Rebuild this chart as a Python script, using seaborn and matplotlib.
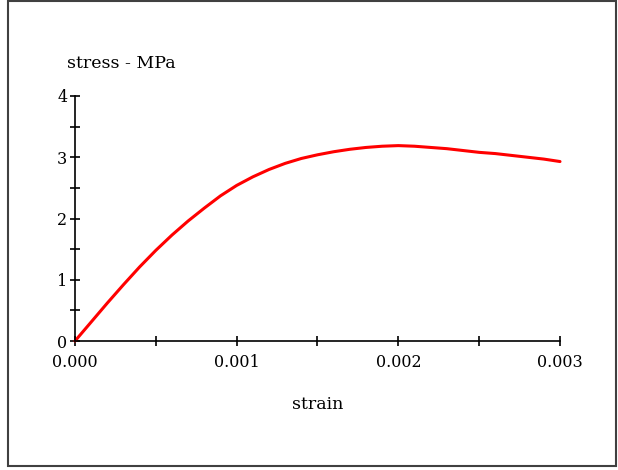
"""
Concrete stress-strain curve, redrawn with seaborn.
"""

import pandas as pd
import matplotlib as mpl
import matplotlib.pyplot as plt
from matplotlib.patches import Rectangle
from matplotlib.ticker import MultipleLocator, FormatStrFormatter
import seaborn as sns

# Data
strain = [0.0, 0.0001, 0.0002, 0.0003, 0.0004, 0.0005, 0.0006, 0.0007,
          0.0008, 0.0009, 0.0010, 0.0011, 0.0012, 0.0013, 0.0014, 0.0015,
          0.0016, 0.0017, 0.0018, 0.0019, 0.0020, 0.0021, 0.0022, 0.0023,
          0.0024, 0.0025, 0.0026, 0.0027, 0.0028, 0.0029, 0.0030]
stress = [0.0, 0.31, 0.62, 0.92, 1.21, 1.48, 1.73, 1.96,
          2.17, 2.37, 2.54, 2.68, 2.80, 2.90, 2.98, 3.04,
          3.09, 3.13, 3.16, 3.18, 3.19, 3.18, 3.16, 3.14,
          3.11, 3.08, 3.06, 3.03, 3.00, 2.97, 2.93]
x_ticks = [0.0, 0.001, 0.002, 0.003]
y_ticks = [0, 1, 2, 3, 4]

# Theme and fonts
sns.set_theme(style='white')
mpl.rcParams['font.family'] = ['DejaVu Serif']
mpl.rcParams['text.color'] = 'black'

df = pd.DataFrame({'strain': strain, 'stress': stress})

fig = plt.figure(figsize=(6.18, 4.70), dpi=100)
ax = fig.add_axes([75 / 618, 129 / 470, 485 / 618, 245 / 470])

sns.lineplot(data=df, x='strain', y='stress', color='#ff0000',
             linewidth=2.2, ax=ax, clip_on=False)

ax.set_xlim(0, 0.003)
ax.set_ylim(0, 4)
ax.set_xticks(x_ticks)
ax.set_yticks(y_ticks)
ax.xaxis.set_major_formatter(FormatStrFormatter('%.3f'))
ax.yaxis.set_major_formatter(FormatStrFormatter('%d'))
ax.xaxis.set_minor_locator(MultipleLocator(0.0005))
ax.yaxis.set_minor_locator(MultipleLocator(0.5))

# Spines: only left and bottom, crossing ticks
for side in ['top', 'right']:
    ax.spines[side].set_visible(False)
for side in ['left', 'bottom']:
    ax.spines[side].set_color('black')
    ax.spines[side].set_linewidth(1.2)
ax.tick_params(which='both', bottom=True, left=True, direction='inout',
               length=7, width=1.2, color='black', labelcolor='black',
               labelsize=11.5)
ax.tick_params(axis='x', which='both', pad=6)
ax.tick_params(axis='y', which='both', pad=2)
ax.tick_params(which='minor', labelbottom=False, labelleft=False)

# Axis labels
ax.set_xlabel('strain', fontsize=12.5, color='black', va='center')
ax.set_ylabel('stress - MPa', fontsize=12.5, color='black', rotation=0,
              ha='center', va='center')
ax.xaxis.set_label_coords(0.501, -0.26)
ax.yaxis.set_label_coords(0.096, 1.131)

# Outer frame
fig.patches.append(Rectangle((8 / 618, 4 / 470), 608 / 618, 465 / 470,
                             transform=fig.transFigure, fill=False,
                             edgecolor='#404040', linewidth=1.5))

fig.savefig('out.png', dpi=100)
